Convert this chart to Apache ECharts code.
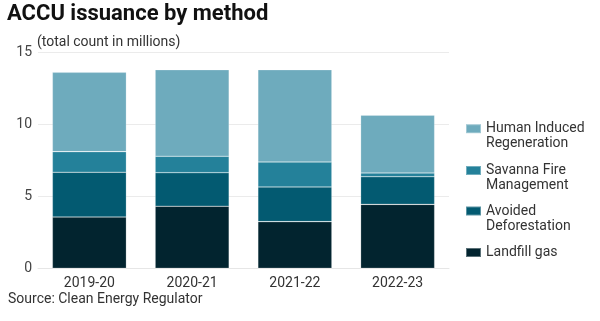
<!DOCTYPE html>
<html>
<head>
<meta charset="utf-8">
<script src="https://cdn.jsdelivr.net/npm/echarts@6/dist/echarts.min.js"></script>
<style>
html,body{margin:0;padding:0;background:#fff;}
#chart{width:600px;height:321px;}
</style>
</head>
<body>
<div id="chart"></div>
<script>
const categories = ['2019-20', '2020-21', '2021-22', '2022-23'];
const landfill = [3.56, 4.31, 3.24, 4.44];
const avoided = [3.11, 2.33, 2.41, 1.92];
const savanna = [1.43, 1.14, 1.73, 0.26];
const humanInduced = [5.51, 6.01, 6.41, 4.01];
const yTicks = [0, 5, 10, 15];

const seriesDefs = [
  { name: 'Landfill gas', label: 'Landfill gas', data: landfill, color: '#02242f', legendTop: 245 },
  { name: 'Avoided Deforestation', label: '\nAvoided\nDeforestation', data: avoided, color: '#035a71', legendTop: 188.5 },
  { name: 'Savanna Fire Management', label: '\nSavanna Fire\nManagement', data: savanna, color: '#24819a', legendTop: 148 },
  { name: 'Human Induced Regeneration', label: '\nHuman Induced\nRegeneration', data: humanInduced, color: '#6eabbd', legendTop: 106.2 }
];

const font = 'Roboto, "Liberation Sans", sans-serif';

const chart = echarts.init(document.getElementById('chart'), null, { renderer: 'canvas' });
chart.setOption({
  animation: false,
  backgroundColor: '#fff',
  textStyle: { fontFamily: font },
  title: [
    { text: 'ACCU issuance by method', left: 7, top: 3, padding: 0,
      textStyle: { fontSize: 22, fontWeight: 'bold', color: '#111', fontFamily: font } },
    { text: '(total count in millions)', left: 37, top: 35, padding: 0,
      textStyle: { fontSize: 14, fontWeight: 'normal', color: '#333', fontFamily: font } },
    { text: 'Source: Clean Energy Regulator', left: 8, top: 292.5, padding: 0,
      textStyle: { fontSize: 14, fontWeight: 'normal', color: '#333', fontFamily: font } }
  ],
  legend: seriesDefs.map(s => ({
    data: [s.name],
    left: 465,
    top: s.legendTop,
    padding: 0,
    orient: 'vertical',
    icon: 'rect',
    itemWidth: 15,
    itemHeight: 9,
    itemGap: 0,
    selectedMode: false,
    formatter: name => seriesDefs.find(d => d.name === name).label,
    textStyle: { fontSize: 14, lineHeight: 15, color: '#333', fontFamily: font }
  })),
  grid: { left: 38, right: 151, top: 52.3, bottom: 52.7, containLabel: false },
  xAxis: {
    type: 'category',
    data: categories,
    axisLine: { show: true, lineStyle: { color: '#e6e6e6', width: 1 } },
    axisTick: { show: false },
    axisLabel: { fontSize: 14, color: '#333', margin: 8, fontFamily: font }
  },
  yAxis: {
    type: 'value',
    min: yTicks[0],
    max: yTicks[yTicks.length - 1],
    interval: yTicks[1] - yTicks[0],
    axisLine: { show: false },
    axisTick: { show: false },
    splitLine: { lineStyle: { color: '#ebebeb', width: 1 } },
    axisLabel: { fontSize: 14, color: '#444', margin: 6, fontFamily: font }
  },
  series: seriesDefs.map(s => ({
    name: s.name,
    type: 'bar',
    stack: 'total',
    data: s.data,
    barWidth: 74,
    itemStyle: { color: s.color, borderColor: 'rgba(255,255,255,0.35)', borderWidth: 0.6 },
    emphasis: { disabled: true }
  }))
});
</script>
</body>
</html>
